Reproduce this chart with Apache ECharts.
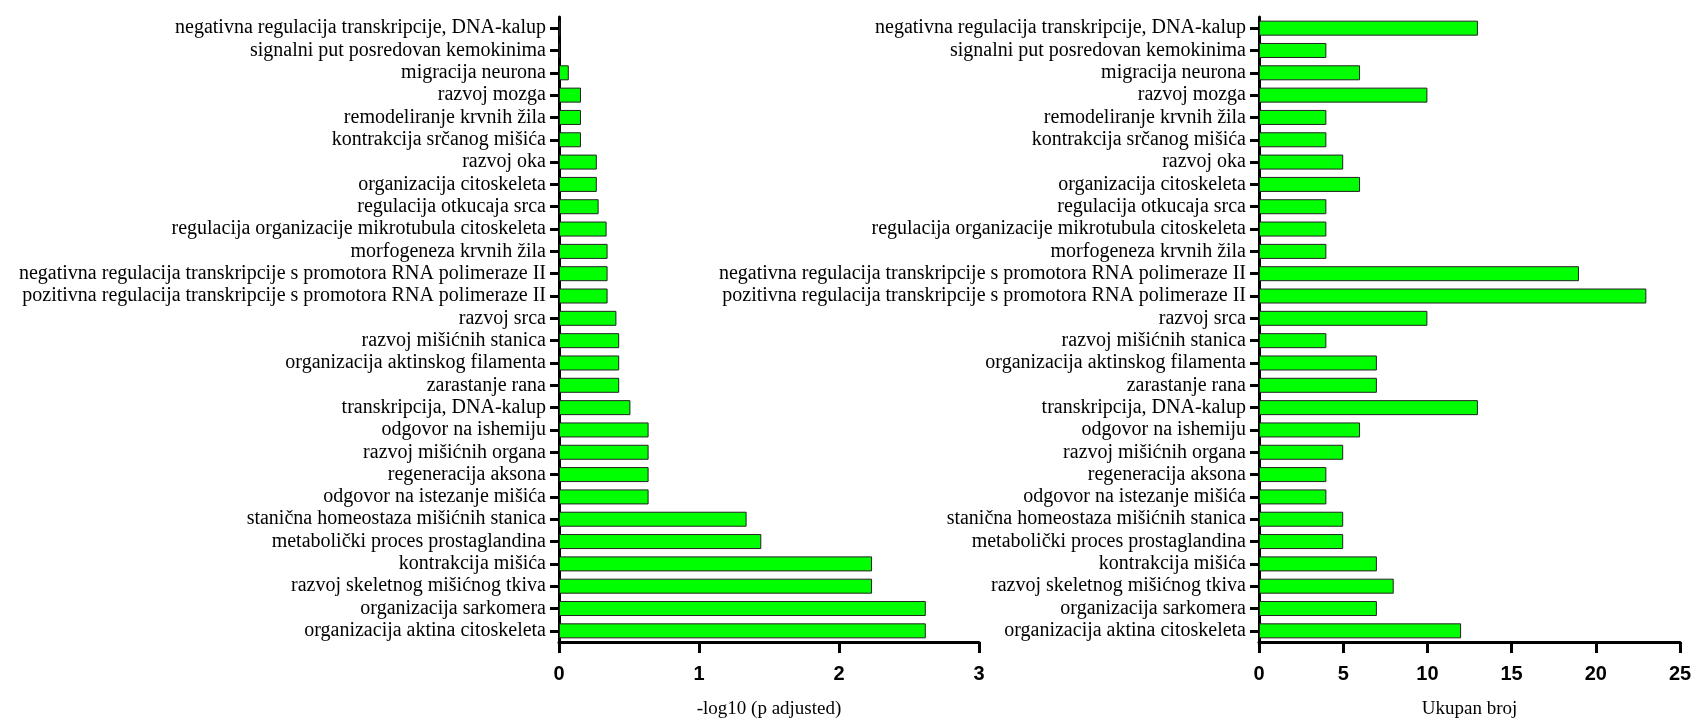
<!DOCTYPE html>
<html>
<head>
<meta charset="utf-8">
<script src="https://cdn.jsdelivr.net/npm/echarts@6/dist/echarts.min.js"></script>
<style>
html,body{margin:0;padding:0;background:#fff;}
#chart{width:1694px;height:719px;}
</style>
</head>
<body>
<div id="chart"></div>
<script>
const categories = [
  "negativna regulacija transkripcije, DNA-kalup",
  "signalni put posredovan kemokinima",
  "migracija neurona",
  "razvoj mozga",
  "remodeliranje krvnih žila",
  "kontrakcija srčanog mišića",
  "razvoj oka",
  "organizacija citoskeleta",
  "regulacija otkucaja srca",
  "regulacija organizacije mikrotubula citoskeleta",
  "morfogeneza krvnih žila",
  "negativna regulacija transkripcije s promotora RNA polimeraze II",
  "pozitivna regulacija transkripcije s promotora RNA polimeraze II",
  "razvoj srca",
  "razvoj mišićnih stanica",
  "organizacija aktinskog filamenta",
  "zarastanje rana",
  "transkripcija, DNA-kalup",
  "odgovor na ishemiju",
  "razvoj mišićnih organa",
  "regeneracija aksona",
  "odgovor na istezanje mišića",
  "stanična homeostaza mišićnih stanica",
  "metabolički proces prostaglandina",
  "kontrakcija mišića",
  "razvoj skeletnog mišićnog tkiva",
  "organizacija sarkomera",
  "organizacija aktina citoskeleta"
];
const negLog10PAdj = [0.01, 0.005, 0.07, 0.157, 0.157, 0.157, 0.27, 0.27, 0.283, 0.34, 0.347, 0.347, 0.347, 0.41, 0.43, 0.43, 0.43, 0.51, 0.64, 0.64, 0.64, 0.64, 1.34, 1.445, 2.236, 2.236, 2.62, 2.62];
const totalCount = [13, 4, 6, 10, 4, 4, 5, 6, 4, 4, 4, 19, 23, 10, 4, 7, 7, 13, 6, 5, 4, 4, 5, 5, 7, 8, 7, 12];
const leftTicks = [0, 1, 2, 3];
const rightTicks = [0, 5, 10, 15, 20, 25];

const chart = echarts.init(document.getElementById('chart'));
const serif = '"Liberation Serif", "DejaVu Serif", serif';
const sans = '"Liberation Sans", Arial, sans-serif';

function yAxisCfg(gi) {
  return {
    type: 'category', gridIndex: gi, data: categories, inverse: true,
    axisLine: {show: true, lineStyle: {color: '#000', width: 3}},
    axisTick: {show: true, alignWithLabel: true, length: 9, lineStyle: {color: '#000', width: 3}},
    axisLabel: {color: '#000', fontFamily: serif, fontSize: 20, margin: 13, interval: 0},
    splitLine: {show: false}
  };
}
function xAxisCfg(gi, max, interval, name) {
  return {
    type: 'value', gridIndex: gi, min: 0, max: max, interval: interval,
    name: name, nameLocation: 'middle', nameGap: 58,
    nameTextStyle: {color: '#000', fontFamily: serif, fontSize: 19},
    axisLine: {show: true, lineStyle: {color: '#000', width: 3}},
    axisTick: {show: true, length: 11, lineStyle: {color: '#000', width: 3}},
    axisLabel: {color: '#000', fontFamily: sans, fontWeight: 'bold', fontSize: 20, margin: 22},
    splitLine: {show: false}
  };
}
const barStyle = {color: '#00ff00', borderColor: '#222', borderWidth: 1};

chart.setOption({
  animation: false,
  grid: [
    {left: 559, width: 420, top: 17, bottom: 77, containLabel: false, outerBoundsMode: 'none'},
    {left: 1259, width: 421, top: 17, bottom: 77, containLabel: false, outerBoundsMode: 'none'}
  ],
  xAxis: [
    xAxisCfg(0, leftTicks[leftTicks.length - 1], leftTicks[1] - leftTicks[0], '-log10 (p adjusted)'),
    xAxisCfg(1, rightTicks[rightTicks.length - 1], rightTicks[1] - rightTicks[0], 'Ukupan broj')
  ],
  yAxis: [yAxisCfg(0), yAxisCfg(1)],
  series: [
    {type: 'bar', xAxisIndex: 0, yAxisIndex: 0, data: negLog10PAdj, barWidth: 15, itemStyle: barStyle},
    {type: 'bar', xAxisIndex: 1, yAxisIndex: 1, data: totalCount, barWidth: 15, itemStyle: barStyle}
  ]
});
</script>
</body>
</html>
